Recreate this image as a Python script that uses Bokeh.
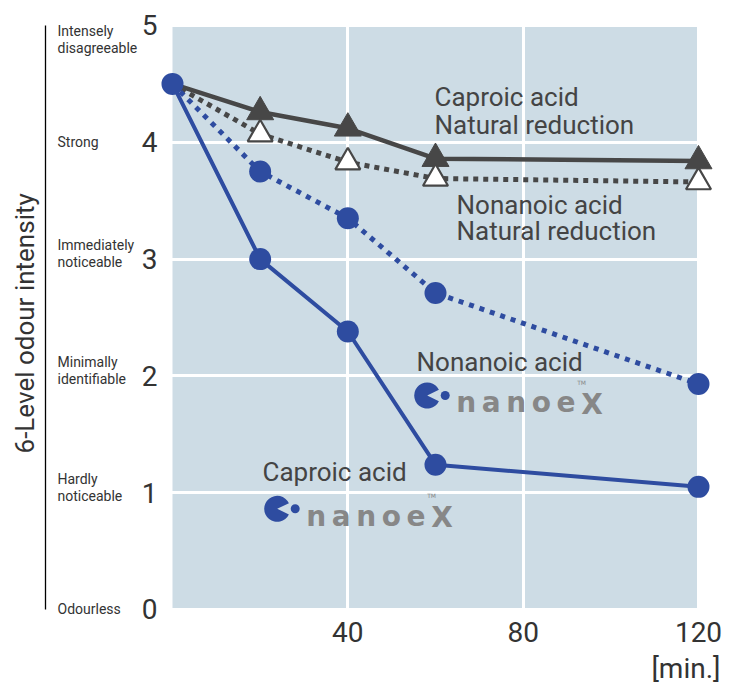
from bokeh.plotting import figure
from bokeh.models import Range1d, FixedTicker, Label
from bokeh.embed import file_html
from bokeh.resources import INLINE

# ---- data ----
minutes = [0, 20, 40, 60, 120]
caproic_natural = [4.5, 4.26, 4.12, 3.86, 3.84]
nonanoic_natural = [4.5, 4.07, 3.83, 3.69, 3.66]
nonanoic_nanoe = [4.5, 3.75, 3.35, 2.71, 1.93]
caproic_nanoe = [4.5, 3.0, 2.38, 1.24, 1.05]

y_ticks = [0, 1, 2, 3, 4, 5]
y_level_names = [["Odourless"], ["Hardly", "noticeable"], ["Minimally", "identifiable"],
                 ["Immediately", "noticeable"], ["Strong"], ["Intensely", "disagreeable"]]
x_ticks = [40, 80, 120]

BLUE = "#2e4ca0"
GRAY = "#474747"
BG = "#cddce5"
TXT = "#444444"
TICK = "#333333"
LOGO_GRAY = "#878787"
FONT = "Roboto"
NARROW = "Roboto"

# pixel scale of the data area (px per unit)
KX = 526 / 120.0
KY = 584 / 5.0
X0 = -36.958
Y0 = -0.6507

p = figure(frame_width=720, frame_height=680,
           x_range=Range1d(X0, X0 + 720 / KX), y_range=Range1d(Y0, Y0 + 680 / KY),
           output_backend="svg", toolbar_location=None,
           min_border_left=10, min_border_right=0,
           min_border_top=5, min_border_bottom=0)
p.outline_line_color = None
p.background_fill_color = "white"
p.border_fill_color = "white"
p.xaxis.visible = False
p.yaxis.visible = False

p.xgrid.ticker = FixedTicker(ticks=x_ticks)
p.ygrid.ticker = FixedTicker(ticks=y_ticks)
p.xgrid.grid_line_color = "white"
p.xgrid.grid_line_width = 3
p.xgrid.bounds = (y_ticks[0], y_ticks[-1])
p.ygrid.grid_line_color = "white"
p.ygrid.grid_line_width = 3
p.ygrid.bounds = (minutes[0], minutes[-1])

# plot background panel
p.quad(left=[minutes[0]], right=[minutes[-1]], bottom=[y_ticks[0]], top=[y_ticks[-1]],
       fill_color=BG, line_color=None, level="image")

# series lines
p.line(minutes, caproic_natural, line_color=GRAY, line_width=4.5)
p.line(minutes, nonanoic_natural, line_color=GRAY, line_width=5, line_dash="5 5")
p.line(minutes, nonanoic_nanoe, line_color=BLUE, line_width=5, line_dash="5 6")
p.line(minutes, caproic_nanoe, line_color=BLUE, line_width=4)

# markers
p.scatter(minutes[1:], caproic_natural[1:], marker="triangle", size=27,
          fill_color=GRAY, line_color=GRAY, line_width=1)
p.scatter(minutes[1:], nonanoic_natural[1:], marker="triangle", size=25,
          fill_color="white", line_color=GRAY, line_width=2.2)
p.scatter(minutes[1:], nonanoic_nanoe[1:], marker="circle", size=22,
          fill_color=BLUE, line_color=None)
p.scatter(minutes, caproic_nanoe, marker="circle", size=22,
          fill_color=BLUE, line_color=None)


def lab(x, y, text, size, font=FONT, align="left", color=TXT, baseline="middle", **kw):
    p.add_layout(Label(x=x, y=y, text=text, text_align=align, text_baseline=baseline,
                       text_font=font, text_font_size=size, text_color=color, **kw))


# tick numbers
for t in y_ticks:
    lab(-15 / KX, t, str(t), "28px", align="right", color=TICK)
for t in x_ticks:
    lab(t, -23 / KY, str(t), "28px", align="center", color=TICK)
lab(120 + 22 / KX, -59 / KY, "[min.]", "28px", align="right", color=TICK)

# level names
for t, lines in zip(y_ticks, y_level_names):
    if len(lines) == 1:
        lab(-115 / KX, t, lines[0], "14px", font=NARROW, color=TICK)
    else:
        top_px = 14 if t < y_ticks[-1] else -6
        lab(-115 / KX, t + top_px / KY, lines[0], "14px", font=NARROW, color=TICK)
        lab(-115 / KX, t + (top_px - 17) / KY, lines[1], "14px", font=NARROW, color=TICK)

# vertical rule left of level names
p.segment(x0=[-127 / KX], y0=[y_ticks[0]], x1=[-127 / KX], y1=[y_ticks[-1]],
          line_color="black", line_width=1.3)

# y title
lab(-147 / KX, 2.45, "6-Level odour intensity", "26px", align="center", color=TICK, angle=1.5708)

# series annotations
lab(262 / KX, (609 - 97) / KY, "Caproic acid", "26px")
lab(262 / KX, (609 - 125) / KY, "Natural reduction", "26px")
lab(284 / KX, (609 - 205) / KY, "Nonanoic acid", "26px")
lab(284 / KX, (609 - 231) / KY, "Natural reduction", "26px")
lab(244 / KX, (609 - 362) / KY, "Nonanoic acid", "26px")
lab(90 / KX, (609 - 472) / KY, "Caproic acid", "26px")


# nanoeX logos
def logo(cx, cy):
    p.wedge(x=[cx], y=[cy], radius=13, radius_units="screen",
            start_angle=0.45, end_angle=-0.45, fill_color=BLUE, line_color=None)
    p.scatter(x=[cx + 18 / KX], y=[cy], size=9, fill_color=BLUE, line_color=None)
    lab(cx + 29 / KX, cy - 7.5 / KY, "n\u2009a\u2009n\u2009o\u2009e", "28px",
        font="DejaVu Sans", color=LOGO_GRAY, baseline="alphabetic", text_font_style="bold")
    lab(cx + 154 / KX, cy - 9 / KY, "X", "28px",
        font="DejaVu Sans", color=LOGO_GRAY, baseline="alphabetic", text_font_style="bold")
    lab(cx + 150 / KX, cy + 13 / KY, "TM", "6px", font="DejaVu Sans", color=LOGO_GRAY)


logo((426.7 - 172) / KX, (609 - 395) / KY)
logo((276.7 - 172) / KX, (609 - 508.3) / KY)

open("out.html", "w").write(file_html(p, INLINE))
